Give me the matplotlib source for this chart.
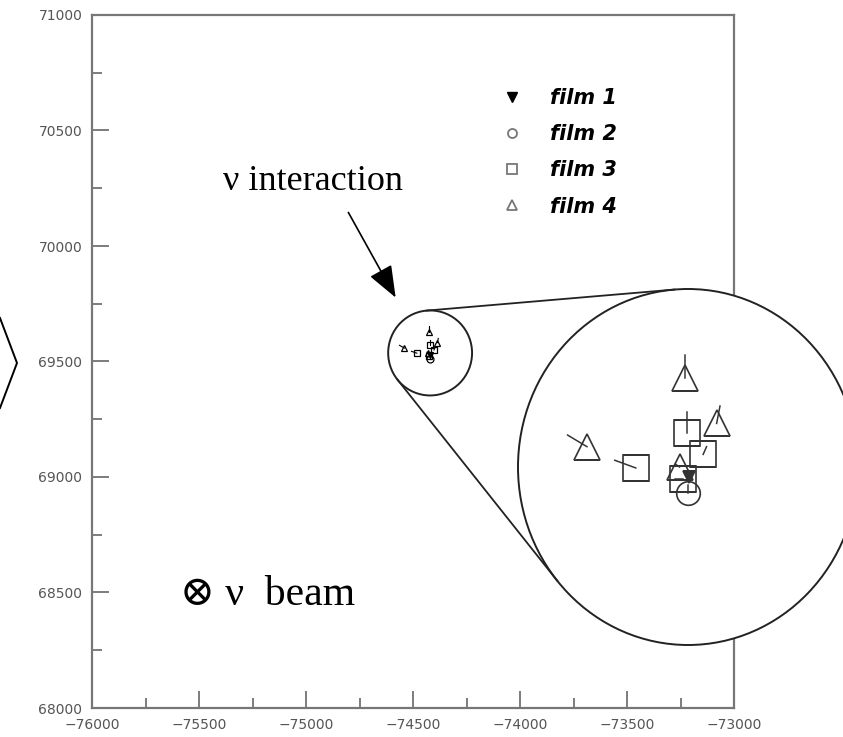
import numpy as np
import matplotlib
matplotlib.use("Agg")
import matplotlib.pyplot as plt
from matplotlib.lines import Line2D
from matplotlib.patches import Circle, Ellipse
from matplotlib.ticker import MultipleLocator

# hit positions per emulsion film (detector frame)
films = ["film 1", "film 2", "film 3", "film 4"]
film_markers = ["v", "o", "s", "^"]

film1_x = [-74419]
film1_y = [69527]
film2_x = [-74420]
film2_y = [69510]
film3_x = [-74421, -74402, -74482, -74426]
film3_y = [69572, 69550, 69536, 69525]
film4_x = [-74424, -74386, -74540, -74430]
film4_y = [69629, 69582, 69558, 69537]

# short track stubs drawn from each hit
film1_dx, film1_dy = [0], [0]
film2_dx, film2_dy = [0], [8]
film3_dx = [0, 4, -25, -10]
film3_dy = [22, 8, 8, 0]
film4_dx = [0, 4, -23, -5]
film4_dy = [24, 18, 12, 3]

xticks = [-76000, -75500, -75000, -74500, -74000, -73500, -73000]
yticks = [68000, 68500, 69000, 69500, 70000, 70500, 71000]

# zoomed region around the interaction vertex
zoom_x, zoom_y = -74420, 69537
zoom_rx, zoom_ry = 196, 184

W, H = 843, 737


def fx(px):
    return px / W


def fy(py):
    return 1 - py / H


def draw_hits(axis, small):
    xs = [film1_x, film2_x, film3_x, film4_x]
    ys = [film1_y, film2_y, film3_y, film4_y]
    dxs = [film1_dx, film2_dx, film3_dx, film4_dx]
    dys = [film1_dy, film2_dy, film3_dy, film4_dy]
    arts = []
    for i in range(4):
        x, y = np.array(xs[i]), np.array(ys[i])
        filled = film_markers[i] == "v"
        if small:
            ms = 4 if filled else 5
            col = "black"
            lw = 0.9
        else:
            ms = 8 if filled else (17 if film_markers[i] == "o" else 19)
            col = "#333333"
            lw = 1.2
        (p,) = axis.plot(x, y, ls="none", marker=film_markers[i], ms=ms,
                         mec=col, mfc=col if filled else "none", mew=lw)
        arts.append(p)
        for xi, yi, dx, dy in zip(x, y, dxs[i], dys[i]):
            if dx == 0 and dy == 0:
                continue
            (l,) = axis.plot([xi, xi + dx], [yi, yi + dy], color=col, lw=lw * 0.9)
            arts.append(l)
    return arts


fig = plt.figure(figsize=(W / 100, H / 100), dpi=100)

ax = fig.add_axes([fx(92), fy(708), (734 - 92) / W, (708 - 15) / H])
ax.set_xlim(-76000, -73000)
ax.set_ylim(68000, 71000)
ax.set_xticks(xticks)
ax.set_yticks(yticks)
ax.xaxis.set_minor_locator(MultipleLocator(250))
ax.yaxis.set_minor_locator(MultipleLocator(250))
ax.tick_params(which="both", direction="in", top=False, right=False,
               color="#666666", width=1.2, labelcolor="#555555", labelsize=10)
ax.tick_params(which="major", length=12, pad=7)
ax.tick_params(which="minor", length=7)
for s in ax.spines.values():
    s.set_color("#777777")
    s.set_linewidth(1.6)

draw_hits(ax, small=True)
ax.add_patch(Ellipse((zoom_x, zoom_y), 2 * zoom_rx, 2 * zoom_ry, fill=False,
                     ec="#222222", lw=1.4))

# legend
handles = []
for m in film_markers:
    if m == "v":
        handles.append(Line2D([], [], ls="none", marker=m, ms=7, mfc="black", mec="black"))
    else:
        handles.append(Line2D([], [], ls="none", marker=m, ms=6.5, mfc="none",
                              mec="#777777", mew=1.3))
ax.legend(handles, films, loc="upper left", bbox_to_anchor=(fx(502), fy(88)),
          bbox_transform=fig.transFigure, frameon=False, handlelength=1.0,
          handletextpad=1.3, labelspacing=0.78, borderpad=0, borderaxespad=0,
          prop=dict(family="DejaVu Sans", weight="bold", style="italic", size=15))

# magnified view (pixel box of the big circle, stretched slightly like the scan)
cx, cy, rx, ry = 688, 467, 170, 178
mag_x, mag_y = 3.93, 4.19
half_x = zoom_rx * (rx / mag_x) / 42.0
half_y = zoom_ry * (ry / mag_y) / 42.5
ins = fig.add_axes([fx(cx - rx), fy(cy + ry), 2 * rx / W, 2 * ry / H])
ins.set_xlim(zoom_x - half_x, zoom_x + half_x)
ins.set_ylim(zoom_y - half_y, zoom_y + half_y)
ins.axis("off")
big = Circle((0.5, 0.5), 0.5, transform=ins.transAxes, fc="white", ec="#222222",
             lw=1.4, clip_on=False, zorder=0)
ins.add_patch(big)
for a in draw_hits(ins, small=False):
    a.set_clip_path(big)

# tangent lines between the two circles (pixel space)
fig.canvas.draw()
c1 = ax.transData.transform((zoom_x, zoom_y))
e1 = ax.transData.transform((zoom_x + zoom_rx, zoom_y + zoom_ry)) - c1
c2 = np.array([cx, H - cy], dtype=float)
e2 = np.array([rx, ry], dtype=float)
th = np.linspace(0, 2 * np.pi, 20000)
n = np.stack([np.cos(th), np.sin(th)], axis=1)


def support(c, e):
    return n @ c + np.sqrt((e[0] * n[:, 0]) ** 2 + (e[1] * n[:, 1]) ** 2)


def touch(c, e, nv):
    return c + e ** 2 * nv / np.sqrt(((e * nv) ** 2).sum())


diff = support(c2, e2) - support(c1, e1)
idx = np.where(np.sign(diff[:-1]) != np.sign(diff[1:]))[0]
inv = fig.transFigure.inverted()
for k in idx:
    p = inv.transform(touch(c1, e1, n[k]))
    q = inv.transform(touch(c2, e2, n[k]))
    fig.add_artist(Line2D([p[0], q[0]], [p[1], q[1]], color="#222222", lw=1.3))

# annotations
serif = ["Liberation Serif", "DejaVu Serif"]
fig.text(fx(403), fy(190), "\u03bd interaction", family=serif, fontsize=26,
         va="baseline", ha="right")
fig.text(fx(180), fy(605), "\u2297 \u03bd  beam", family=serif, fontsize=30, va="baseline")
ax.annotate("", xy=(397, H - 300), xytext=(347, H - 210), xycoords="figure pixels",
            textcoords="figure pixels",
            arrowprops=dict(arrowstyle="-|>,head_length=0.9,head_width=0.35",
                            color="black", lw=1.2, mutation_scale=22))
fig.add_artist(Line2D([0, fx(17), 0], [fy(318), fy(363), fy(408)],
                      transform=fig.transFigure, color="black", lw=1.4))

fig.savefig("out.png", dpi=100)
